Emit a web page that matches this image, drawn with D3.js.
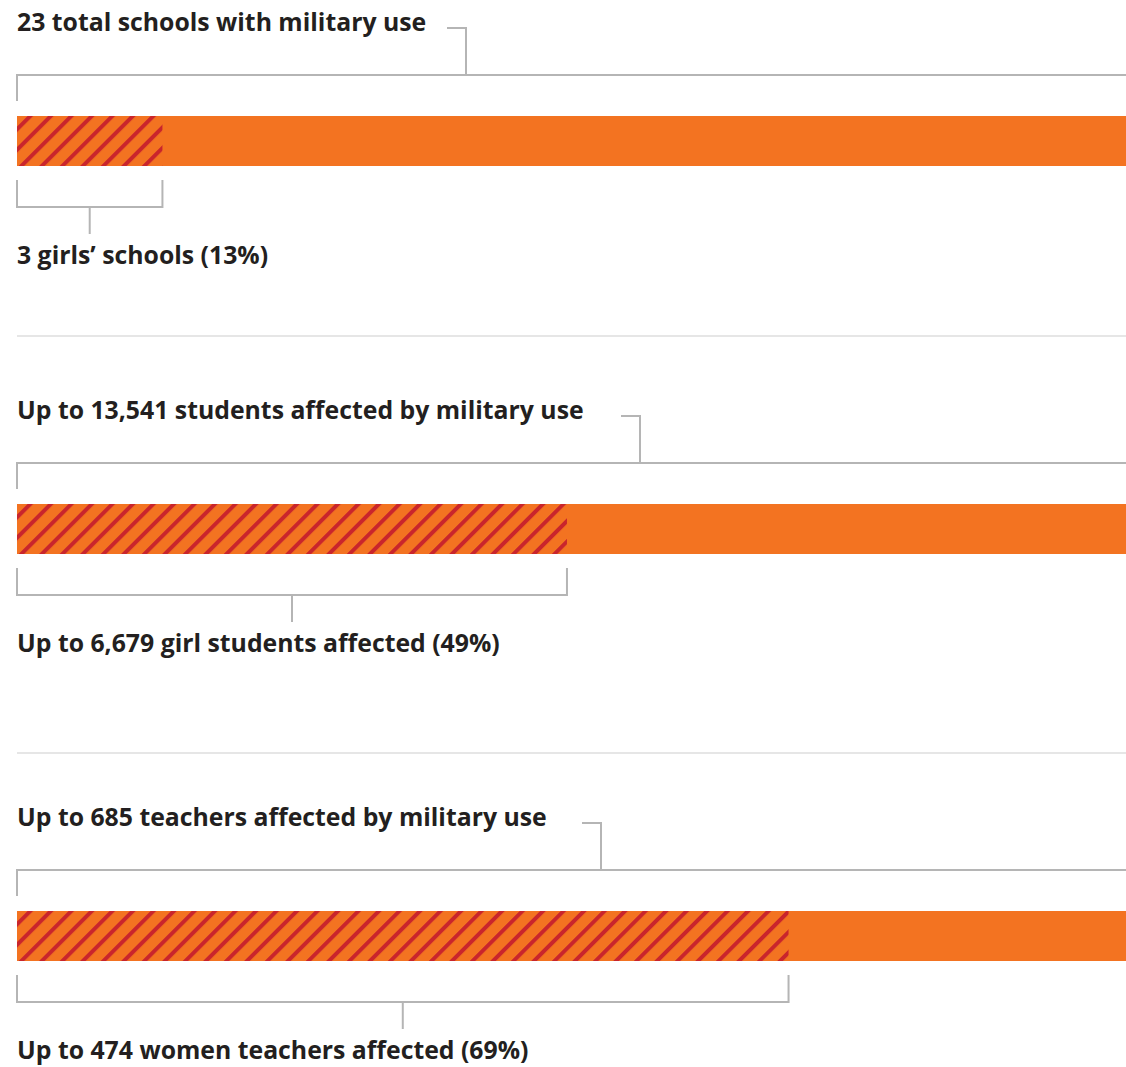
<!DOCTYPE html>
<html>
<head>
<meta charset="utf-8">
<script src="https://cdn.jsdelivr.net/npm/d3@7"></script>
<style>
  html, body { margin: 0; padding: 0; background: #fff; }
  svg { display: block; }
  text { font-family: "Open Sans", Lato, sans-serif; font-weight: 700; fill: #231f20; }
</style>
</head>
<body>
<svg id="chart" width="1126" height="1067"></svg>
<script>
// ---- data ----
const titles = [
  "23 total schools with military use",
  "Up to 13,541 students affected by military use",
  "Up to 685 teachers affected by military use"
];
const subLabels = [
  "3 girls’ schools (13%)",
  "Up to 6,679 girl students affected (49%)",
  "Up to 474 women teachers affected (69%)"
];
const totals = [23, 13541, 685];
const parts = [3, 6679, 474];

// ---- layout ----
const W = 1126, H = 1067;
const sectionTop = [0, 388, 795];
const topTickX = [466, 640, 601];
const separatorsY = [336, 753];
const orange = "#f37321", red = "#c9252c", gray = "#b5b5b5";
const fontSize = 24.8;

const svg = d3.select("#chart");
const defs = svg.append("defs");
const pat = defs.append("pattern")
  .attr("id", "hatch")
  .attr("patternUnits", "userSpaceOnUse")
  .attr("width", 14.5).attr("height", 14.5)
  .attr("patternTransform", "rotate(45)");
pat.append("rect").attr("width", 14.5).attr("height", 14.5).attr("fill", orange);
pat.append("rect").attr("x", 0).attr("y", 0).attr("width", 4).attr("height", 14.5).attr("fill", red);

// separators
svg.selectAll("line.sep").data(separatorsY).join("line")
  .attr("class", "sep")
  .attr("x1", 17).attr("x2", W)
  .attr("y1", d => d).attr("y2", d => d)
  .attr("stroke", "#e6e6e6").attr("stroke-width", 2);

const sections = titles.map((t, i) => ({
  title: t, sub: subLabels[i], total: totals[i], part: parts[i],
  top: sectionTop[i], tickX: topTickX[i]
}));

const g = svg.selectAll("g.section").data(sections).join("g")
  .attr("class", "section")
  .attr("transform", d => `translate(0,${d.top})`);

g.each(function(d) {
  const s = d3.select(this);
  const x = d3.scaleLinear().domain([0, d.total]).range([17, 1132]);
  const y = d3.scaleBand().domain(["bar"]).range([116, 166]);
  const xEnd = x(d.part);

  // title
  s.append("text").attr("x", 17).attr("y", 31)
    .attr("font-size", fontSize).text(d.title);

  // top bracket
  s.append("path")
    .attr("d", `M${d.tickX - 19},28 H${d.tickX} V75`)
    .attr("fill", "none").attr("stroke", gray).attr("stroke-width", 2);
  s.append("path")
    .attr("d", `M17,101 V75 H${W + 5}`)
    .attr("fill", "none").attr("stroke", gray).attr("stroke-width", 2);

  // bar
  s.append("rect")
    .attr("x", x(0)).attr("y", y("bar"))
    .attr("width", x(d.total) - x(0)).attr("height", y.bandwidth())
    .attr("fill", orange);
  s.append("rect")
    .attr("x", x(0)).attr("y", y("bar"))
    .attr("width", xEnd - x(0)).attr("height", y.bandwidth())
    .attr("fill", "url(#hatch)");

  // bottom bracket
  s.append("path")
    .attr("d", `M17,180 V207 H${xEnd} V180`)
    .attr("fill", "none").attr("stroke", gray).attr("stroke-width", 2);
  const mid = (17 + xEnd) / 2;
  s.append("line")
    .attr("x1", mid).attr("x2", mid).attr("y1", 207).attr("y2", 234)
    .attr("stroke", gray).attr("stroke-width", 2);

  // sub label
  s.append("text").attr("x", 17).attr("y", 264)
    .attr("font-size", fontSize).text(d.sub);
});
</script>
</body>
</html>
